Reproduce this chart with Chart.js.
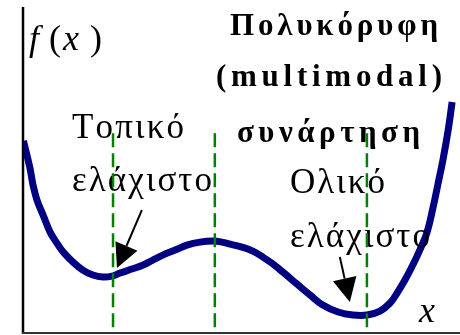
<!DOCTYPE html>
<html>
<head>
<meta charset="utf-8">
<script src="https://cdn.jsdelivr.net/npm/chart.js@4/dist/chart.umd.min.js"></script>
<style>
  html, body { margin: 0; padding: 0; background: #fff; }
  #wrap { width: 460px; height: 335px; }
</style>
</head>
<body>
<div id="wrap"><canvas id="chart"></canvas></div>
<script>
// curve samples (arbitrary units, x: 0..100, y: 0..100)
const curveX = [0.1, 1.6, 2.3, 3.2, 4.6, 6.2, 7.6, 9.2, 11.2, 13.7, 16.0, 18.3, 20.4, 22.2, 24.9, 27.5,
  29.7, 32.0, 34.8, 37.5, 40.5, 43.5, 45.5, 47.4, 50.1, 52.6, 54.9, 57.2, 60.0, 62.7, 65.7, 68.6,
  72.1, 75.5, 78.7, 81.7, 84.0, 85.6, 87.4, 89.2, 90.8, 92.4, 93.8, 95.0, 96.1, 97.3, 98.2];
const curveY = [57.7, 49.5, 44.4, 39.9, 35.4, 30.3, 27.3, 24.3, 21.6, 18.9, 17.4, 16.8, 17.1, 18.0, 19.2, 20.4,
  21.9, 23.4, 24.9, 26.4, 27.3, 27.6, 27.3, 26.7, 25.8, 24.6, 22.8, 20.7, 17.7, 14.7, 11.4, 8.4,
  6.3, 5.4, 5.4, 6.6, 9.0, 12.0, 15.9, 20.4, 24.9, 30.0, 37.5, 45.0, 52.0, 61.0, 69.4];

// vertical dashed markers
const markerX = [20.6, 43.9, 78.7];
const markerTop = 60;

// arrows: [x, y] start and tip
const arrowFrom = [[27.2, 36.9], [72.5, 22.8]];
const arrowTo = [[21.5, 19.5], [74.8, 9.3]];

// texts
const titleLines = ["Πολυκόρυφη", "(multimodal)", "συνάρτηση"];
const localLabel = ["Τοπικό", "ελάχιστο"];
const globalLabel = ["Ολικό", "ελάχιστο"];

const points = curveX.map((x, i) => ({ x: x, y: curveY[i] }));

function spacedText(ctx, str, x, y, width) {
  const chars = [...str];
  const widths = chars.map(c => ctx.measureText(c).width);
  const total = widths.reduce((a, b) => a + b, 0);
  const gap = chars.length > 1 ? (width - total) / (chars.length - 1) : 0;
  let cx = x;
  chars.forEach((c, i) => {
    ctx.fillText(c, cx, y);
    cx += widths[i] + gap;
  });
}

const overlay = {
  id: "overlay",
  afterDatasetsDraw(chart) {
    const ctx = chart.ctx;
    const xs = chart.scales.x, ys = chart.scales.y;
    const area = chart.chartArea;
    ctx.save();

    // axes
    ctx.strokeStyle = "#000";
    ctx.lineWidth = 2.5;
    ctx.beginPath();
    ctx.moveTo(area.left, 7);
    ctx.lineTo(area.left, area.bottom + 1);
    ctx.stroke();
    ctx.strokeStyle = "#333";
    ctx.lineWidth = 2;
    ctx.beginPath();
    ctx.moveTo(area.left - 1, area.bottom);
    ctx.lineTo(area.right, area.bottom);
    ctx.stroke();

    // texts
    ctx.fillStyle = "#000";
    ctx.textBaseline = "alphabetic";
    ctx.textAlign = "left";
    const serif = "'Liberation Serif', 'DejaVu Serif', serif";

    ctx.font = "italic 36px " + serif;
    ctx.fillText("f", 29, 50);
    ctx.fillText("x", 63, 50);
    ctx.fillText("x", 419, 322);
    ctx.font = "36px " + serif;
    ctx.fillText("(", 49, 50);
    ctx.fillText(")", 90, 50);

    ctx.font = "bold 31px " + serif;
    spacedText(ctx, titleLines[0], 230, 35, 208);
    spacedText(ctx, titleLines[1], 216, 86, 226);
    spacedText(ctx, titleLines[2], 237, 142, 183);

    ctx.font = "35px " + serif;
    spacedText(ctx, localLabel[0], 72, 138, 112);
    spacedText(ctx, localLabel[1], 72, 191, 140);
    spacedText(ctx, globalLabel[0], 290, 193, 95);
    spacedText(ctx, globalLabel[1], 290, 247, 140);

    // dashed markers
    ctx.strokeStyle = "#008000";
    ctx.lineWidth = 2.5;
    ctx.setLineDash([14, 6]);
    markerX.forEach(v => {
      const px = xs.getPixelForValue(v);
      ctx.beginPath();
      ctx.moveTo(px, ys.getPixelForValue(markerTop));
      ctx.lineTo(px, area.bottom);
      ctx.stroke();
    });
    ctx.setLineDash([]);

    // arrows
    ctx.strokeStyle = "#000";
    ctx.fillStyle = "#000";
    ctx.lineWidth = 2;
    arrowFrom.forEach((f, i) => {
      const x0 = xs.getPixelForValue(f[0]), y0 = ys.getPixelForValue(f[1]);
      const x1 = xs.getPixelForValue(arrowTo[i][0]), y1 = ys.getPixelForValue(arrowTo[i][1]);
      const len = Math.hypot(x1 - x0, y1 - y0);
      const dx = (x1 - x0) / len, dy = (y1 - y0) / len;
      const headLen = 24, half = 12;
      const bx = x1 - dx * headLen, by = y1 - dy * headLen;
      ctx.beginPath();
      ctx.moveTo(x0, y0);
      ctx.lineTo(bx, by);
      ctx.stroke();
      ctx.beginPath();
      ctx.moveTo(x1, y1);
      ctx.lineTo(bx - dy * half, by + dx * half);
      ctx.lineTo(bx + dy * half, by - dx * half);
      ctx.closePath();
      ctx.fill();
    });

    ctx.restore();
  }
};

new Chart(document.getElementById("chart"), {
  type: "line",
  data: {
    datasets: [
      {
        data: points,
        borderColor: "#000080",
        borderWidth: 7,
        pointRadius: 0,
        tension: 0.4,
        fill: false,
        borderCapStyle: "butt",
        borderJoinStyle: "round",
      },
    ],
  },
  options: {
    responsive: true,
    maintainAspectRatio: false,
    animation: false,
    layout: { padding: { left: 23, right: 0, top: 0, bottom: 2 } },
    plugins: { legend: { display: false }, tooltip: { enabled: false } },
    scales: {
      x: { type: "linear", min: 0, max: 100, display: false },
      y: { type: "linear", min: 0, max: 100, display: false },
    },
  },
  plugins: [overlay],
});
</script>
</body>
</html>
